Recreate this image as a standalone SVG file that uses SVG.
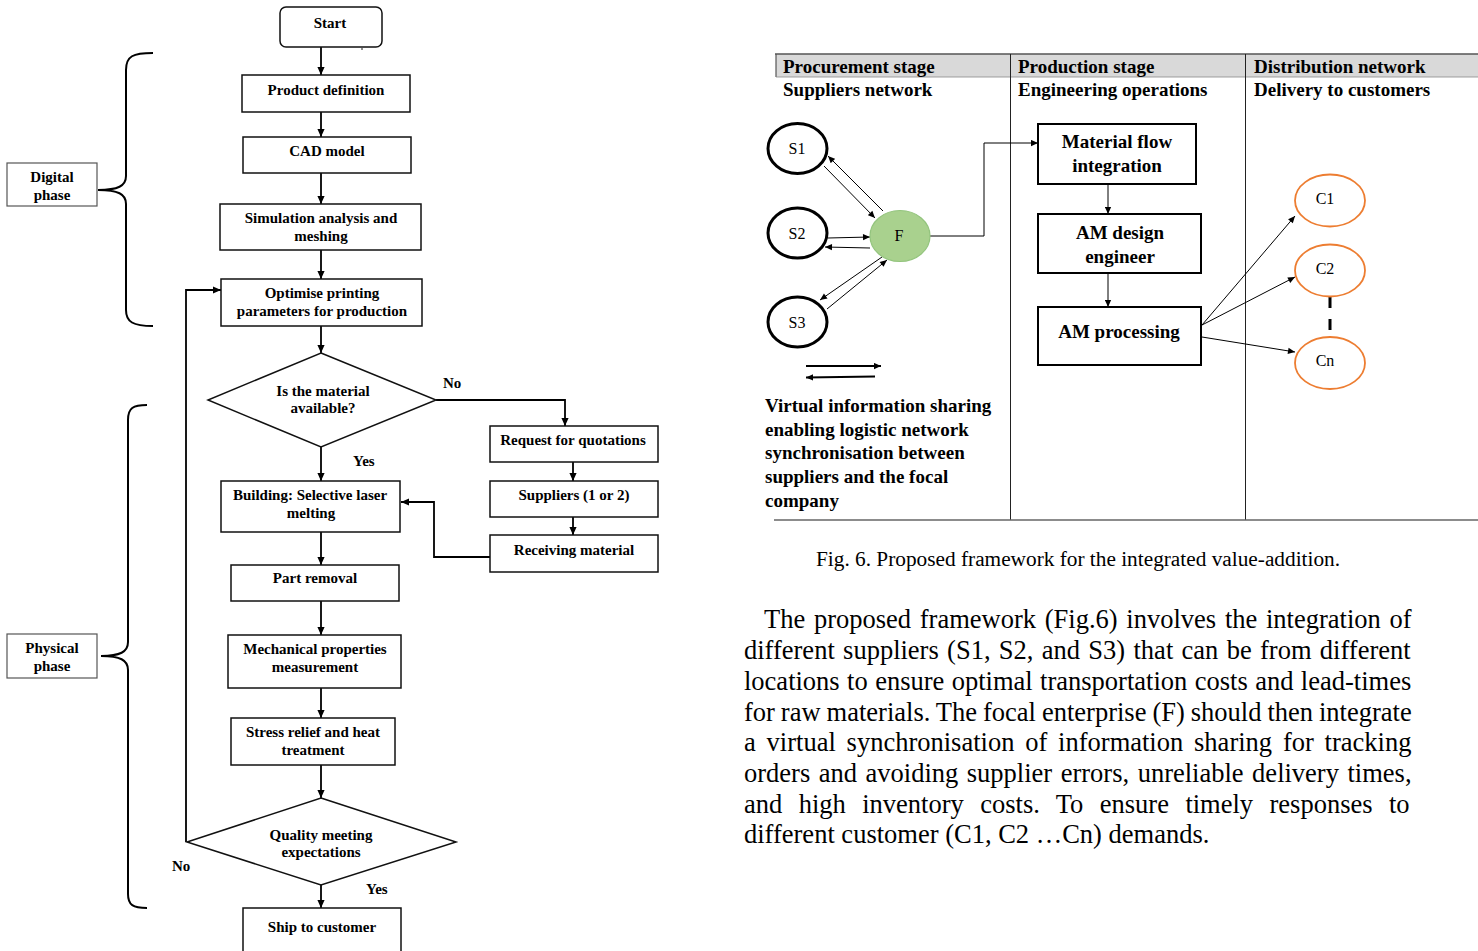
<svg xmlns="http://www.w3.org/2000/svg" width="1478" height="951" viewBox="0 0 1478 951">
<defs>
<marker id="ah" viewBox="0 0 10 10" refX="10" refY="5" markerWidth="9" markerHeight="8" orient="auto" markerUnits="userSpaceOnUse"><path d="M0,0.5 L10,5 L0,9.5 z" fill="#000"/></marker>
<marker id="as" viewBox="0 0 10 10" refX="10" refY="5" markerWidth="8" markerHeight="7" orient="auto" markerUnits="userSpaceOnUse"><path d="M0,0.5 L10,5 L0,9.5 z" fill="#000"/></marker>
</defs>
<style>
.box{fill:#fff;stroke:#111;stroke-width:1.5}
.fc{fill:none;stroke:#000;stroke-width:1.8;marker-end:url(#ah)}
.ft{font-family:"Liberation Serif","Times New Roman",serif;font-weight:bold;font-size:15px;fill:#000;text-anchor:middle}
.lbl{font-family:"Liberation Serif","Times New Roman",serif;font-weight:bold;font-size:15px;fill:#000}
.brace{fill:none;stroke:#000;stroke-width:2}
.hd{font-family:"Liberation Serif","Times New Roman",serif;font-weight:bold;font-size:19px;fill:#000}
.nb{fill:#fff;stroke:#000;stroke-width:2}
.nt{font-family:"Liberation Serif","Times New Roman",serif;font-weight:bold;font-size:19px;fill:#000;text-anchor:middle}
.sc{fill:#fff;stroke:#000;stroke-width:3}
.cc{fill:#fff;stroke:#ed7d31;stroke-width:1.8}
.ct{font-family:"Liberation Serif","Times New Roman",serif;font-size:16px;fill:#000;text-anchor:middle}
.thin{fill:none;stroke:#000;stroke-width:1;marker-end:url(#as)}
.para{font-family:"Liberation Serif","Times New Roman",serif;font-size:26.5px;fill:#000}
</style>

<!-- Phase labels and braces -->
<g id="digital-phase">
<rect x="7" y="163" width="90" height="43" fill="#fff" stroke="#555" stroke-width="1.2"/>
<text class="ft" x="52" y="182">Digital</text>
<text class="ft" x="52" y="200">phase</text>
<path class="brace" d="M153,53 C133,53 126,56 126,70 L126,176 C126,186 118,190 98,190 C118,190 126,194 126,204 L126,310 C126,322 133,326 153,326"/>
</g>
<g id="physical-phase">
<rect x="7" y="634" width="90" height="44" fill="#fff" stroke="#555" stroke-width="1.2"/>
<text class="ft" x="52" y="653">Physical</text>
<text class="ft" x="52" y="671">phase</text>
<path class="brace" d="M147,405 C133,405 128,408 128,420 L128,642 C128,652 120,656 101,656 C120,656 128,660 128,670 L128,894 C128,905 133,908 147,908"/>
</g>

<!-- Flowchart connectors -->
<g id="flow-connectors">
<path class="fc" d="M321,47 V75"/>
<path class="fc" d="M321,112 V137"/>
<path class="fc" d="M321,173 V204"/>
<path class="fc" d="M321,250 V279"/>
<path class="fc" d="M321,326 V353"/>
<path class="fc" d="M436,400 H565 V426"/>
<path class="fc" d="M573,462 V481"/>
<path class="fc" d="M573,517 V535"/>
<path class="fc" d="M490,557 H434 V502 H401"/>
<path class="fc" d="M321,447 V481"/>
<path class="fc" d="M321,532 V565"/>
<path class="fc" d="M321,601 V635"/>
<path class="fc" d="M321,688 V718"/>
<path class="fc" d="M321,765 V798"/>
<path class="fc" d="M186,842 V290 H221"/>
<path class="fc" d="M321,885 V908"/>
<text class="lbl" x="443" y="388">No</text>
<text class="lbl" x="353" y="466">Yes</text>
<text class="lbl" x="172" y="871">No</text>
<text class="lbl" x="366" y="894">Yes</text>
</g>

<!-- Flowchart nodes -->
<g id="start">
<rect class="box" x="280" y="7" width="102" height="40" rx="6"/>
<text class="ft" x="330" y="28">Start</text>
<circle cx="362" cy="49" r="0.8" fill="#000"/>
</g>
<g id="product-definition">
<rect class="box" x="242" y="75" width="168" height="37"/>
<text class="ft" x="326" y="95">Product definition</text>
</g>
<g id="cad-model">
<rect class="box" x="243" y="137" width="168" height="36"/>
<text class="ft" x="327" y="156">CAD model</text>
</g>
<g id="simulation">
<rect class="box" x="220" y="204" width="201" height="46"/>
<text class="ft" x="321" y="223">Simulation analysis and</text>
<text class="ft" x="321" y="241">meshing</text>
</g>
<g id="optimise">
<rect class="box" x="221" y="279" width="201" height="47"/>
<text class="ft" x="322" y="298">Optimise printing</text>
<text class="ft" x="322" y="316">parameters for production</text>
</g>
<g id="material-available">
<polygon class="box" points="321,353 436,400 321,447 208,400"/>
<text class="ft" x="323" y="396">Is the material</text>
<text class="ft" x="323" y="413">available?</text>
</g>
<g id="request-quotations">
<rect class="box" x="490" y="426" width="168" height="36"/>
<text class="ft" x="573" y="445">Request for quotations</text>
</g>
<g id="suppliers">
<rect class="box" x="490" y="481" width="168" height="36"/>
<text class="ft" x="574" y="500">Suppliers (1 or 2)</text>
</g>
<g id="receiving-material">
<rect class="box" x="490" y="535" width="168" height="37"/>
<text class="ft" x="574" y="555">Receiving material</text>
</g>
<g id="building">
<rect class="box" x="221" y="481" width="179" height="51"/>
<text class="ft" x="310" y="500">Building: Selective laser</text>
<text class="ft" x="311" y="518">melting</text>
</g>
<g id="part-removal">
<rect class="box" x="231" y="565" width="168" height="36"/>
<text class="ft" x="315" y="583">Part removal</text>
</g>
<g id="mechanical">
<rect class="box" x="228" y="635" width="173" height="53"/>
<text class="ft" x="315" y="654">Mechanical properties</text>
<text class="ft" x="315" y="672">measurement</text>
</g>
<g id="stress-relief">
<rect class="box" x="231" y="718" width="164" height="47"/>
<text class="ft" x="313" y="737">Stress relief and heat</text>
<text class="ft" x="313" y="755">treatment</text>
</g>
<g id="quality">
<polygon class="box" points="321,798 456,842 321,885 187,842"/>
<text class="ft" x="321" y="840">Quality meeting</text>
<text class="ft" x="321" y="857">expectations</text>
</g>
<g id="ship">
<rect class="box" x="243" y="908" width="158" height="60"/>
<text class="ft" x="322" y="932">Ship to customer</text>
</g>

<!-- Framework table -->
<g id="framework-table">
<rect x="776" y="54" width="710" height="23" fill="#d9d9d9"/>
<line x1="775" y1="54" x2="1478" y2="54" stroke="#555" stroke-width="1.5"/>
<line x1="776" y1="54" x2="776" y2="77" stroke="#555" stroke-width="1.2"/>
<line x1="776" y1="77" x2="1478" y2="77" stroke="#888" stroke-width="0.8"/>
<line x1="1010.5" y1="54" x2="1010.5" y2="520" stroke="#222" stroke-width="1"/>
<line x1="1245.5" y1="54" x2="1245.5" y2="520" stroke="#222" stroke-width="1"/>
<line x1="774" y1="520" x2="1478" y2="520" stroke="#666" stroke-width="1.3"/>
<text class="hd" x="783" y="73">Procurement stage</text>
<text class="hd" x="1018" y="73">Production stage</text>
<text class="hd" x="1254" y="73">Distribution network</text>
<text class="hd" x="783" y="96">Suppliers network</text>
<text class="hd" x="1018" y="96">Engineering operations</text>
<text class="hd" x="1254" y="96">Delivery to customers</text>
<text class="hd" x="765" y="412">Virtual information sharing</text>
<text class="hd" x="765" y="436">enabling logistic network</text>
<text class="hd" x="765" y="459">synchronisation between</text>
<text class="hd" x="765" y="483">suppliers and the focal</text>
<text class="hd" x="765" y="507">company</text>
</g>

<!-- Framework connectors -->
<g id="framework-connectors">
<path class="thin" d="M824,166 L875,218"/>
<path class="thin" d="M883,211 L828,156"/>
<path class="thin" d="M828,238 L870,237"/>
<path class="thin" d="M870,248 L825,247"/>
<path class="thin" d="M882,257 L820,300"/>
<path class="thin" d="M827,309 L887,260"/>
<path class="thin" d="M806,366 L881,366" style="stroke-width:2"/>
<path class="thin" d="M875,376.5 L806,377.5" style="stroke-width:2"/>
<path class="thin" d="M930,236 H984 V143 H1038"/>
<path class="thin" d="M1108,184 V214"/>
<path class="thin" d="M1108,273 V307"/>
<path class="thin" d="M1202,325 L1295,216"/>
<path class="thin" d="M1202,325 L1295,277"/>
<path class="thin" d="M1202,337 L1295,352"/>
<line x1="1330" y1="297" x2="1330" y2="335" stroke="#000" stroke-width="3" stroke-dasharray="11 11"/>
</g>

<!-- Framework nodes -->
<g id="s1"><ellipse class="sc" cx="797.5" cy="148.5" rx="29.5" ry="25"/><text class="ct" x="797" y="154">S1</text></g>
<g id="s2"><ellipse class="sc" cx="797.5" cy="233" rx="29.5" ry="25"/><text class="ct" x="797" y="239">S2</text></g>
<g id="s3"><ellipse class="sc" cx="797.5" cy="322" rx="29.5" ry="25"/><text class="ct" x="797" y="328">S3</text></g>
<g id="f"><ellipse cx="900" cy="236" rx="30" ry="25.5" fill="#a9d18e" stroke="#93c47d" stroke-width="1.2"/><text class="ct" x="899" y="241">F</text></g>
<g id="material-flow">
<rect class="nb" x="1038" y="124" width="158" height="60"/>
<text class="nt" x="1117" y="148">Material flow</text>
<text class="nt" x="1117" y="172">integration</text>
</g>
<g id="am-design">
<rect class="nb" x="1038" y="214" width="163" height="59"/>
<text class="nt" x="1120" y="239">AM design</text>
<text class="nt" x="1120" y="263">engineer</text>
</g>
<g id="am-processing">
<rect class="nb" x="1038" y="307" width="163" height="58"/>
<text class="nt" x="1119" y="338">AM processing</text>
</g>
<g id="c1"><ellipse class="cc" cx="1330" cy="200.5" rx="35" ry="26"/><text class="ct" x="1325" y="204">C1</text></g>
<g id="c2"><ellipse class="cc" cx="1330" cy="270.5" rx="35" ry="26"/><text class="ct" x="1325" y="274">C2</text></g>
<g id="cn"><ellipse class="cc" cx="1330" cy="363" rx="35" ry="26"/><text class="ct" x="1325" y="366">Cn</text></g>

<!-- Caption and paragraph -->
<g id="caption">
<text x="816" y="566" font-family="Liberation Serif, Times New Roman, serif" font-size="21.3px" fill="#000">Fig. 6. Proposed framework for the integrated value-addition.</text>
</g>
<g id="paragraph">
<text class="para" x="764" y="628" word-spacing="2.1">The proposed framework (Fig.6) involves the integration of</text>
<text class="para" x="744" y="659" word-spacing="1.7">different suppliers (S1, S2, and S3) that can be from different</text>
<text class="para" x="744" y="690" word-spacing="0.8">locations to ensure optimal transportation costs and lead-times</text>
<text class="para" x="744" y="721" word-spacing="-0.65">for raw materials. The focal enterprise (F) should then integrate</text>
<text class="para" x="744" y="751" word-spacing="4.2">a virtual synchronisation of information sharing for tracking</text>
<text class="para" x="744" y="782" word-spacing="1.9">orders and avoiding supplier errors, unreliable delivery times,</text>
<text class="para" x="744" y="813" word-spacing="9.8">and high inventory costs. To ensure timely responses to</text>
<text class="para" x="744" y="843">different customer (C1, C2 …Cn) demands.</text>
</g>
</svg>
